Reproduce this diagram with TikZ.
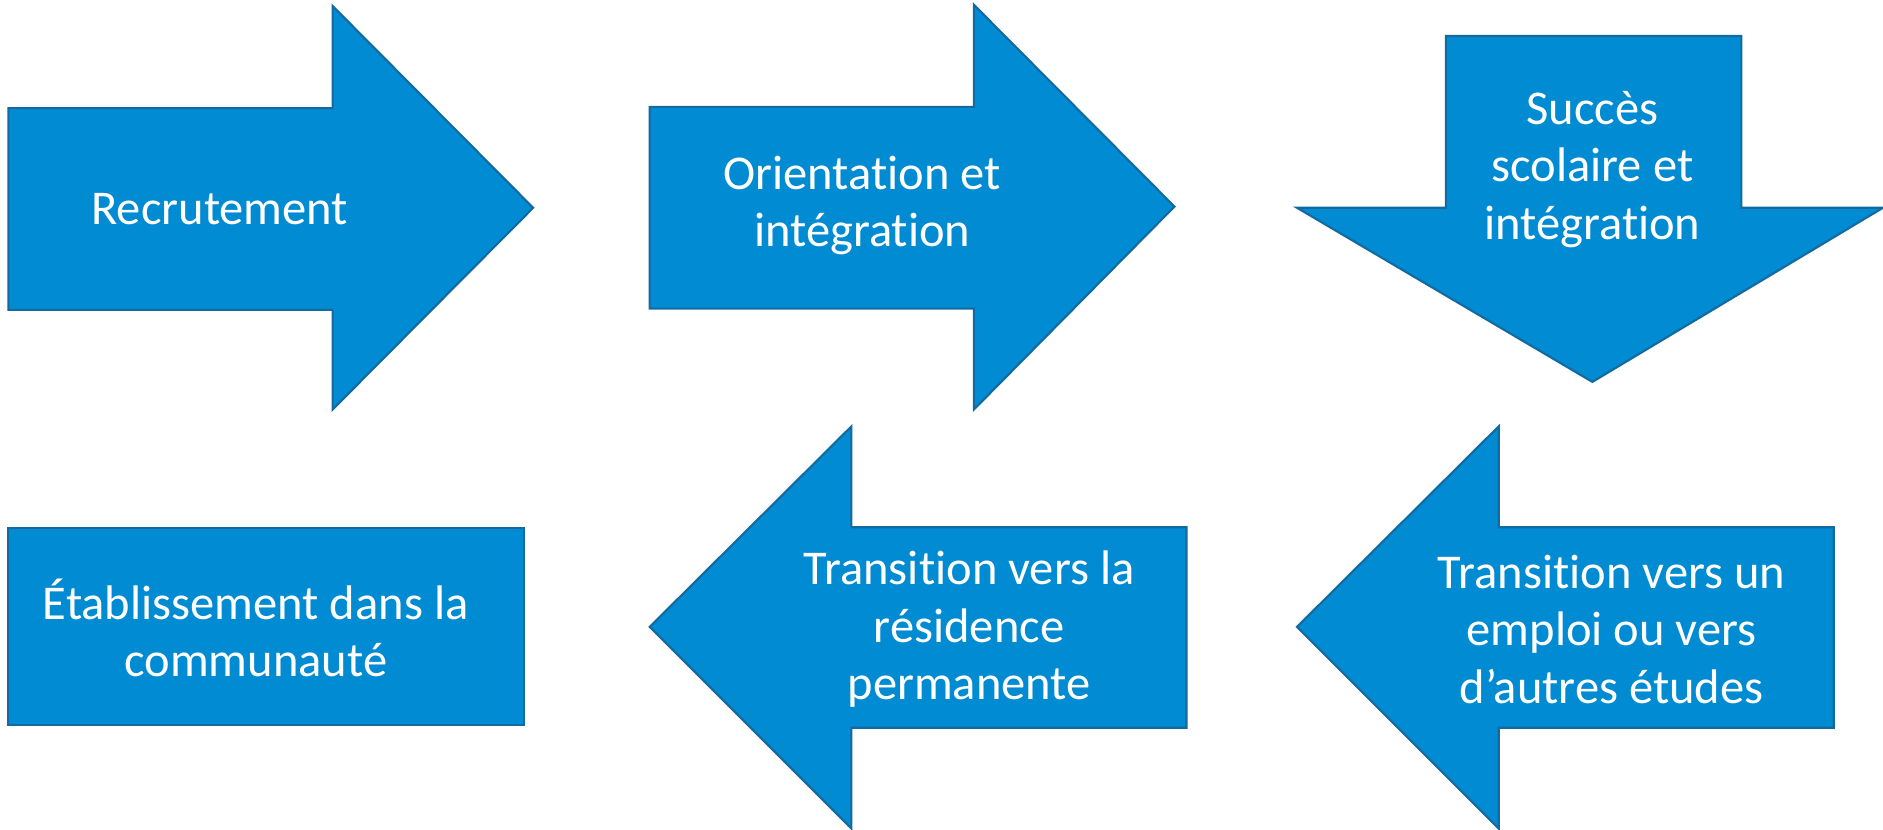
\documentclass[tikz,border=0pt]{standalone}
\usepackage{fontspec}
\setmainfont[Ligatures={TeX,NoCommon}]{Carlito}
\definecolor{stepfill}{RGB}{0,139,210}
\definecolor{stepline}{RGB}{18,106,160}
\tikzset{
  steparrow/.style={fill=stepfill, draw=stepline, line width=0.5pt, line join=miter},
  steptext/.style={text=white, align=center, inner sep=0pt, font=\fontsize{11.5}{13.6}\selectfont}
}

\begin{document}
\begin{tikzpicture}[x=0.1mm, y=-0.1mm]
		%%%%% START %%%%%
		\useasboundingbox (0,0) rectangle (1568,691);
		
		% top row
		\draw[steparrow] (7,90) -- (277,90) -- (277,5) -- (444,173) -- (277,341) -- (277,258) -- (7,258) -- cycle;
		\node[steptext] (recrut) at (183,174) {Recrutement};
		
		\draw[steparrow] (541,89) -- (811,89) -- (811,4) -- (978,172) -- (811,341) -- (811,257) -- (541,257) -- cycle;
		\node[steptext] (orient) at (718,171) {Orientation et\\intégration};
		
		\draw[steparrow] (1204,30) -- (1450,30) -- (1450,173) -- (1568,173) -- (1326,318) -- (1080,173) -- (1204,173) -- cycle;
		\node[steptext] (succes) at (1326,141) {Succès\\scolaire et\\intégration};
		
		% bottom row
		\draw[steparrow] (1527,439) -- (1248,439) -- (1248,355) -- (1080,522) -- (1248,690) -- (1248,606) -- (1527,606) -- cycle;
		\node[steptext] (emploi) at (1342,524) {Transition vers un\\emploi ou vers\\d’autres études};
		
		\draw[steparrow] (988,439) -- (709,439) -- (709,355) -- (541,522) -- (709,690) -- (709,606) -- (988,606) -- cycle;
		\node[steptext] (residence) at (807,524) {Transition vers la\\résidence\\permanente};
		
		\draw[steparrow] (7,440) rectangle (436,604);
		\node[steptext] (etabl) at (213,523) {Établissement dans la\\communauté};
		%%%%% END %%%%%
\end{tikzpicture}
\end{document}
